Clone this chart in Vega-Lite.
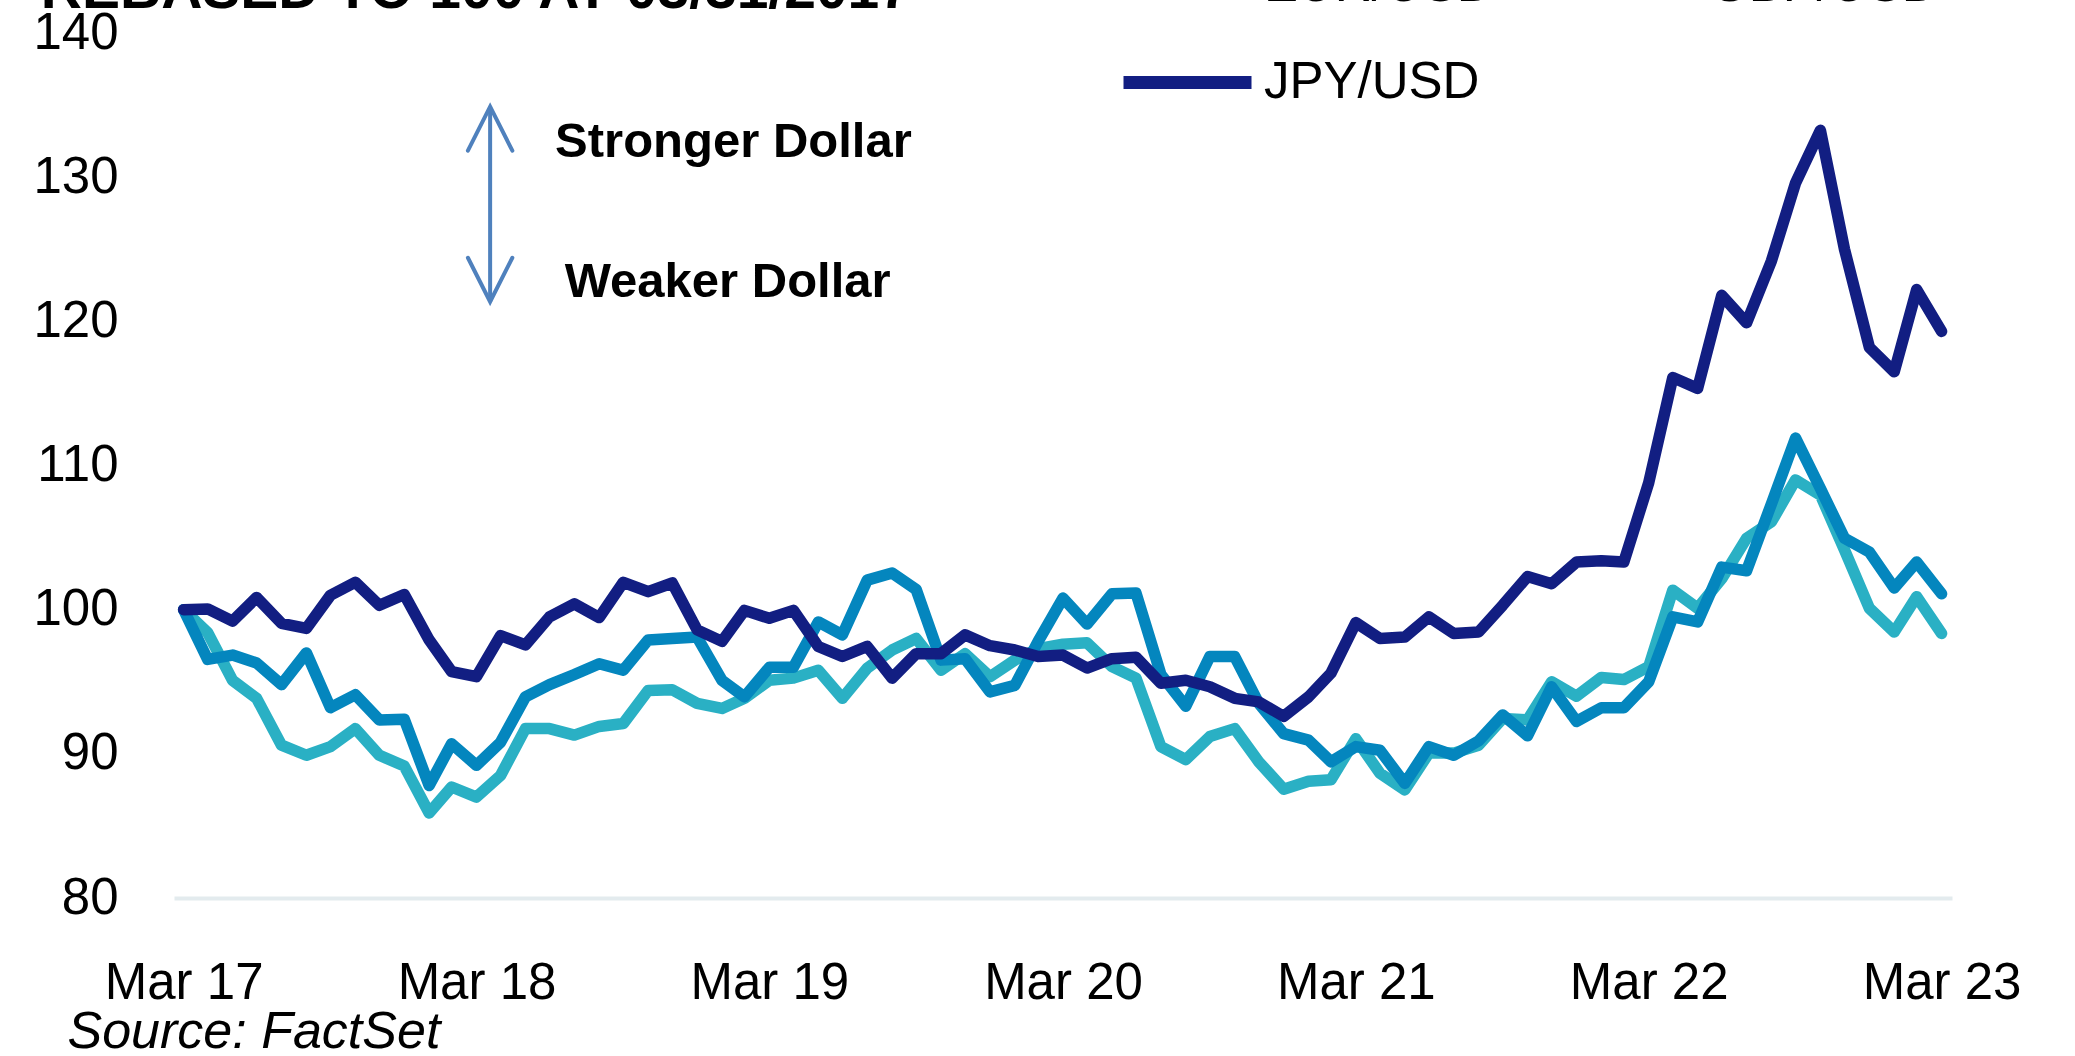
{
  "$schema": "https://vega.github.io/schema/vega-lite/v6.json",
  "width": 1778,
  "height": 865,
  "autosize": {"type": "none"},
  "padding": {"left": 174, "top": 33, "right": 123, "bottom": 158},
  "background": "white",
  "config": {"view": {"stroke": null}, "font": "Liberation Sans"},
  "layer": [
    {
      "data": {
        "values": [
          {"date": "2017-03-31", "EUR/USD": 100.0, "GBP/USD": 100.0, "JPY/USD": 100.0},
          {"date": "2017-04-30", "EUR/USD": 98.4, "GBP/USD": 96.55, "JPY/USD": 100.05},
          {"date": "2017-05-31", "EUR/USD": 95.1, "GBP/USD": 96.85, "JPY/USD": 99.2},
          {"date": "2017-06-30", "EUR/USD": 93.85, "GBP/USD": 96.3, "JPY/USD": 100.85},
          {"date": "2017-07-31", "EUR/USD": 90.6, "GBP/USD": 94.8, "JPY/USD": 99.05},
          {"date": "2017-08-31", "EUR/USD": 89.9, "GBP/USD": 97.0, "JPY/USD": 98.7},
          {"date": "2017-09-30", "EUR/USD": 90.5, "GBP/USD": 93.2, "JPY/USD": 101.0},
          {"date": "2017-10-31", "EUR/USD": 91.75, "GBP/USD": 94.1, "JPY/USD": 101.9},
          {"date": "2017-11-30", "EUR/USD": 89.9, "GBP/USD": 92.35, "JPY/USD": 100.3},
          {"date": "2017-12-31", "EUR/USD": 89.15, "GBP/USD": 92.4, "JPY/USD": 101.05},
          {"date": "2018-01-31", "EUR/USD": 85.9, "GBP/USD": 87.8, "JPY/USD": 97.9},
          {"date": "2018-02-28", "EUR/USD": 87.7, "GBP/USD": 90.7, "JPY/USD": 95.7},
          {"date": "2018-03-31", "EUR/USD": 87.0, "GBP/USD": 89.2, "JPY/USD": 95.35},
          {"date": "2018-04-30", "EUR/USD": 88.5, "GBP/USD": 90.8, "JPY/USD": 98.2},
          {"date": "2018-05-31", "EUR/USD": 91.75, "GBP/USD": 93.95, "JPY/USD": 97.55},
          {"date": "2018-06-30", "EUR/USD": 91.75, "GBP/USD": 94.8, "JPY/USD": 99.5},
          {"date": "2018-07-31", "EUR/USD": 91.3, "GBP/USD": 95.5, "JPY/USD": 100.4},
          {"date": "2018-08-31", "EUR/USD": 91.9, "GBP/USD": 96.25, "JPY/USD": 99.45},
          {"date": "2018-09-30", "EUR/USD": 92.1, "GBP/USD": 95.8, "JPY/USD": 101.9},
          {"date": "2018-10-31", "EUR/USD": 94.4, "GBP/USD": 97.9, "JPY/USD": 101.25},
          {"date": "2018-11-30", "EUR/USD": 94.45, "GBP/USD": 98.0, "JPY/USD": 101.85},
          {"date": "2018-12-31", "EUR/USD": 93.5, "GBP/USD": 98.1, "JPY/USD": 98.6},
          {"date": "2019-01-31", "EUR/USD": 93.15, "GBP/USD": 95.1, "JPY/USD": 97.8},
          {"date": "2019-02-28", "EUR/USD": 93.85, "GBP/USD": 93.95, "JPY/USD": 99.95},
          {"date": "2019-03-31", "EUR/USD": 95.1, "GBP/USD": 96.0, "JPY/USD": 99.4},
          {"date": "2019-04-30", "EUR/USD": 95.25, "GBP/USD": 96.0, "JPY/USD": 99.95},
          {"date": "2019-05-31", "EUR/USD": 95.8, "GBP/USD": 99.15, "JPY/USD": 97.45},
          {"date": "2019-06-30", "EUR/USD": 93.85, "GBP/USD": 98.25, "JPY/USD": 96.75},
          {"date": "2019-07-31", "EUR/USD": 95.95, "GBP/USD": 102.05, "JPY/USD": 97.45},
          {"date": "2019-08-31", "EUR/USD": 97.2, "GBP/USD": 102.55, "JPY/USD": 95.25},
          {"date": "2019-09-30", "EUR/USD": 98.0, "GBP/USD": 101.4, "JPY/USD": 96.95},
          {"date": "2019-10-31", "EUR/USD": 95.8, "GBP/USD": 96.5, "JPY/USD": 96.95},
          {"date": "2019-11-30", "EUR/USD": 96.95, "GBP/USD": 96.6, "JPY/USD": 98.25},
          {"date": "2019-12-31", "EUR/USD": 95.35, "GBP/USD": 94.3, "JPY/USD": 97.5},
          {"date": "2020-01-31", "EUR/USD": 96.5, "GBP/USD": 94.75, "JPY/USD": 97.2},
          {"date": "2020-02-29", "EUR/USD": 97.3, "GBP/USD": 97.8, "JPY/USD": 96.75},
          {"date": "2020-03-31", "EUR/USD": 97.6, "GBP/USD": 100.8, "JPY/USD": 96.85},
          {"date": "2020-04-30", "EUR/USD": 97.7, "GBP/USD": 99.0, "JPY/USD": 95.95},
          {"date": "2020-05-31", "EUR/USD": 96.05, "GBP/USD": 101.1, "JPY/USD": 96.6},
          {"date": "2020-06-30", "EUR/USD": 95.25, "GBP/USD": 101.15, "JPY/USD": 96.7},
          {"date": "2020-07-31", "EUR/USD": 90.5, "GBP/USD": 95.5, "JPY/USD": 94.9},
          {"date": "2020-08-31", "EUR/USD": 89.6, "GBP/USD": 93.3, "JPY/USD": 95.1},
          {"date": "2020-09-30", "EUR/USD": 91.2, "GBP/USD": 96.75, "JPY/USD": 94.65},
          {"date": "2020-10-31", "EUR/USD": 91.75, "GBP/USD": 96.75, "JPY/USD": 93.85},
          {"date": "2020-11-30", "EUR/USD": 89.45, "GBP/USD": 93.5, "JPY/USD": 93.6},
          {"date": "2020-12-31", "EUR/USD": 87.55, "GBP/USD": 91.4, "JPY/USD": 92.6},
          {"date": "2021-01-31", "EUR/USD": 88.1, "GBP/USD": 90.95, "JPY/USD": 93.95},
          {"date": "2021-02-28", "EUR/USD": 88.2, "GBP/USD": 89.45, "JPY/USD": 95.6},
          {"date": "2021-03-31", "EUR/USD": 91.05, "GBP/USD": 90.5, "JPY/USD": 99.1},
          {"date": "2021-04-30", "EUR/USD": 88.65, "GBP/USD": 90.25, "JPY/USD": 98.0},
          {"date": "2021-05-31", "EUR/USD": 87.5, "GBP/USD": 87.95, "JPY/USD": 98.1},
          {"date": "2021-06-30", "EUR/USD": 90.05, "GBP/USD": 90.5, "JPY/USD": 99.5},
          {"date": "2021-07-31", "EUR/USD": 90.05, "GBP/USD": 89.9, "JPY/USD": 98.35},
          {"date": "2021-08-31", "EUR/USD": 90.6, "GBP/USD": 90.9, "JPY/USD": 98.45},
          {"date": "2021-09-30", "EUR/USD": 92.45, "GBP/USD": 92.7, "JPY/USD": 100.3},
          {"date": "2021-10-31", "EUR/USD": 92.35, "GBP/USD": 91.25, "JPY/USD": 102.3},
          {"date": "2021-11-30", "EUR/USD": 95.0, "GBP/USD": 94.65, "JPY/USD": 101.8},
          {"date": "2021-12-31", "EUR/USD": 94.0, "GBP/USD": 92.25, "JPY/USD": 103.3},
          {"date": "2022-01-31", "EUR/USD": 95.3, "GBP/USD": 93.2, "JPY/USD": 103.4},
          {"date": "2022-02-28", "EUR/USD": 95.15, "GBP/USD": 93.2, "JPY/USD": 103.3},
          {"date": "2022-03-31", "EUR/USD": 96.05, "GBP/USD": 95.0, "JPY/USD": 108.8},
          {"date": "2022-04-30", "EUR/USD": 101.35, "GBP/USD": 99.5, "JPY/USD": 116.1},
          {"date": "2022-05-31", "EUR/USD": 100.1, "GBP/USD": 99.15, "JPY/USD": 115.35},
          {"date": "2022-06-30", "EUR/USD": 102.15, "GBP/USD": 102.95, "JPY/USD": 121.8},
          {"date": "2022-07-31", "EUR/USD": 104.95, "GBP/USD": 102.7, "JPY/USD": 119.9},
          {"date": "2022-08-31", "EUR/USD": 106.1, "GBP/USD": 107.35, "JPY/USD": 124.2},
          {"date": "2022-09-30", "EUR/USD": 109.0, "GBP/USD": 111.9, "JPY/USD": 129.6},
          {"date": "2022-10-31", "EUR/USD": 107.95, "GBP/USD": 108.4, "JPY/USD": 133.25},
          {"date": "2022-11-30", "EUR/USD": 104.15, "GBP/USD": 104.95, "JPY/USD": 125.0},
          {"date": "2022-12-31", "EUR/USD": 100.1, "GBP/USD": 104.0, "JPY/USD": 118.2},
          {"date": "2023-01-31", "EUR/USD": 98.45, "GBP/USD": 101.5, "JPY/USD": 116.5},
          {"date": "2023-02-28", "EUR/USD": 100.9, "GBP/USD": 103.3, "JPY/USD": 122.2},
          {"date": "2023-03-31", "EUR/USD": 98.35, "GBP/USD": 101.1, "JPY/USD": 119.3}
        ]
      },
      "transform": [
        {"fold": ["EUR/USD", "GBP/USD", "JPY/USD"], "as": ["pair", "value"]}
      ],
      "mark": {"type": "line", "strokeWidth": 11.5, "strokeCap": "round", "strokeJoin": "round"},
      "encoding": {
        "x": {
          "field": "date",
          "type": "temporal",
          "scale": {
            "type": "utc",
            "domain": [
              {"year": 2017, "month": 3, "date": 19, "utc": true},
              {"year": 2023, "month": 4, "date": 13, "utc": true}
            ]
          },
          "axis": {
            "values": [
              {"year": 2017, "month": 3, "date": 31, "utc": true},
              {"year": 2018, "month": 3, "date": 31, "utc": true},
              {"year": 2019, "month": 3, "date": 31, "utc": true},
              {"year": 2020, "month": 3, "date": 31, "utc": true},
              {"year": 2021, "month": 3, "date": 31, "utc": true},
              {"year": 2022, "month": 3, "date": 31, "utc": true},
              {"year": 2023, "month": 3, "date": 31, "utc": true}
            ],
            "format": "%b %y",
            "labelFontSize": 51,
            "labelFont": "Liberation Sans",
            "labelColor": "black",
            "labelBaseline": "alphabetic",
            "labelPadding": 100,
            "labelFlush": false,
            "labelOverlap": false,
            "ticks": false,
            "grid": false,
            "domainColor": "#e3ebee",
            "domainWidth": 4,
            "title": "Source: FactSet",
            "titleFont": "Liberation Sans",
            "titleFontSize": 52,
            "titleFontStyle": "italic",
            "titleFontWeight": "normal",
            "titleColor": "black",
            "titleAlign": "left",
            "titleAnchor": "start",
            "titleBaseline": "alphabetic",
            "titleX": -107,
            "titleY": 149
          }
        },
        "y": {
          "field": "value",
          "type": "quantitative",
          "scale": {"domain": [80, 140], "nice": false, "zero": false},
          "axis": {
            "values": [80, 90, 100, 110, 120, 130, 140],
            "title": null,
            "labelFontSize": 51,
            "labelFont": "Liberation Sans",
            "labelColor": "black",
            "labelPadding": 56,
            "labelFlush": false,
            "ticks": false,
            "domain": false,
            "grid": false
          }
        },
        "color": {
          "field": "pair",
          "type": "nominal",
          "scale": {
            "domain": ["EUR/USD", "GBP/USD", "JPY/USD"],
            "range": ["#2ab0c4", "#0486be", "#121e82"]
          },
          "legend": {
            "title": null,
            "orient": "none",
            "direction": "horizontal",
            "legendX": 943,
            "legendY": -118,
            "columns": 2,
            "symbolType": "stroke",
            "symbolSize": 16384,
            "symbolStrokeWidth": 13,
            "labelFontSize": 51,
            "labelFont": "Liberation Sans",
            "labelColor": "black",
            "labelLimit": 500,
            "labelOffset": 6,
            "rowPadding": -1,
            "columnPadding": 48,
            "padding": 0
          }
        }
      }
    },
    {
      "data": {"values": [{}]},
      "mark": {"type": "text", "text": "REBASED TO 100 AT 03/31/2017", "font": "Liberation Sans", "fontSize": 57, "fontWeight": "bold", "color": "black", "align": "left", "baseline": "alphabetic"},
      "encoding": {
        "x": {"datum": {"year": 2016, "month": 10, "date": 4, "utc": true}, "type": "temporal"},
        "y": {"datum": 141.73, "type": "quantitative"}
      }
    },
    {
      "data": {"values": [{}]},
      "mark": {"type": "rule", "color": "#4f81bd", "strokeWidth": 4},
      "encoding": {
        "x": {"datum": {"year": 2018, "month": 4, "date": 17, "utc": true}, "type": "temporal"},
        "y": {"datum": 121.36, "type": "quantitative"},
        "y2": {"datum": 134.89}
      }
    },
    {
      "data": {"values": [{}]},
      "mark": {"type": "point", "shape": "M-0.505,1L0,0L0.505,1", "size": 7744, "filled": false, "stroke": "#4f81bd", "strokeWidth": 4, "strokeCap": "round", "opacity": 1},
      "encoding": {
        "x": {"datum": {"year": 2018, "month": 4, "date": 17, "utc": true}, "type": "temporal"},
        "y": {"datum": 134.89, "type": "quantitative"}
      }
    },
    {
      "data": {"values": [{}]},
      "mark": {"type": "point", "shape": "M-0.505,-1L0,0L0.505,-1", "size": 7744, "filled": false, "stroke": "#4f81bd", "strokeWidth": 4, "strokeCap": "round", "opacity": 1},
      "encoding": {
        "x": {"datum": {"year": 2018, "month": 4, "date": 17, "utc": true}, "type": "temporal"},
        "y": {"datum": 121.36, "type": "quantitative"}
      }
    },
    {
      "data": {"values": [{}]},
      "mark": {"type": "text", "text": "Stronger Dollar", "font": "Liberation Sans", "fontSize": 49, "fontWeight": "bold", "color": "black", "align": "left", "baseline": "alphabetic"},
      "encoding": {
        "x": {"datum": {"year": 2018, "month": 7, "date": 7, "utc": true}, "type": "temporal"},
        "y": {"datum": 131.4, "type": "quantitative"}
      }
    },
    {
      "data": {"values": [{}]},
      "mark": {"type": "text", "text": "Weaker Dollar", "font": "Liberation Sans", "fontSize": 49, "fontWeight": "bold", "color": "black", "align": "left", "baseline": "alphabetic"},
      "encoding": {
        "x": {"datum": {"year": 2018, "month": 7, "date": 19, "utc": true}, "type": "temporal"},
        "y": {"datum": 121.69, "type": "quantitative"}
      }
    }
  ]
}
